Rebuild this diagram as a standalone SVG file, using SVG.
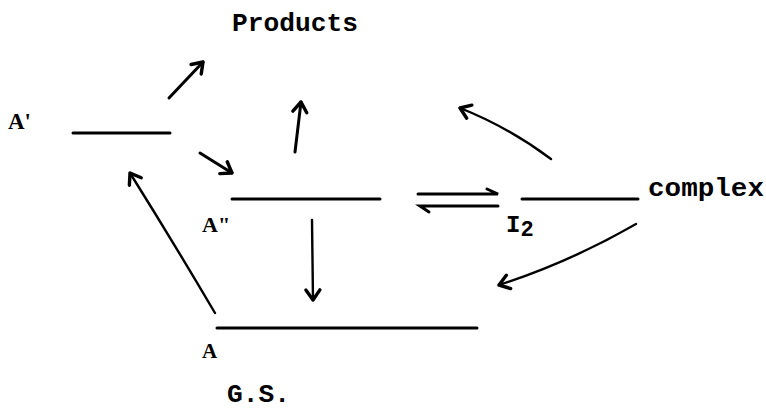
<svg xmlns="http://www.w3.org/2000/svg" width="766" height="419" viewBox="0 0 766 419">
<style>
.lvl{stroke:#000;stroke-width:3;stroke-linecap:round;fill:none}
.arr{stroke:#000;stroke-width:3;stroke-linecap:round;fill:none}
.thin{stroke:#000;stroke-width:2.4;stroke-linecap:round;fill:none}
.tw{font-family:"Liberation Mono","DejaVu Sans Mono",monospace;font-weight:bold;fill:#000}
.lab{font-family:"Liberation Serif","DejaVu Serif",serif;font-weight:bold;fill:#000}
</style>
<defs>
<marker id="ah" markerUnits="userSpaceOnUse" markerWidth="30" markerHeight="30" refX="15" refY="15" orient="auto" viewBox="0 0 30 30">
<path d="M5,8 L15,15 L5,22" fill="none" stroke="#000" stroke-width="3.4" stroke-linecap="round" stroke-linejoin="round"/>
</marker>
</defs>
<rect width="766" height="419" fill="#fff"/>
<g id="products"><text class="tw" x="232" y="31" font-size="25" textLength="126" lengthAdjust="spacingAndGlyphs">Products</text></g>
<g id="Aprime"><line class="lvl" x1="73" y1="133" x2="170" y2="133"/><text class="lab" x="8" y="129" font-size="23">A'</text></g>
<g id="Adouble"><line class="lvl" x1="232" y1="199" x2="380" y2="199"/><text class="lab" x="202" y="232" font-size="22">A"</text></g>
<g id="I2"><line class="lvl" x1="522" y1="199" x2="638" y2="199"/><text class="tw" x="506" y="232" font-size="24" font-weight="normal">I<tspan font-size="22" dy="4">2</tspan></text></g>
<g id="complex"><text class="tw" x="648" y="196" font-size="25" textLength="116" lengthAdjust="spacingAndGlyphs">complex</text></g>
<g id="A"><line class="lvl" x1="217" y1="328" x2="477" y2="328"/><text class="lab" x="202" y="358" font-size="21">A</text></g>
<g id="GS"><text class="tw" x="227" y="402" font-size="25" textLength="63" lengthAdjust="spacingAndGlyphs">G.S.</text></g>
<g id="connectors">
<path class="arr" d="M169,98 L203,62" marker-end="url(#ah)"/>
<path class="arr" d="M200,153 L232,173" marker-end="url(#ah)"/>
<path class="arr" d="M295,152 L301,102" marker-end="url(#ah)"/>
<path class="thin" d="M215,313 Q175,245 130,173" marker-end="url(#ah)"/>
<path class="thin" d="M312,220 L313,300" marker-end="url(#ah)"/>
<path class="thin" d="M551,159 Q508,127 460,108" marker-end="url(#ah)"/>
<path class="thin" d="M636,224 Q570,262 499,285" marker-end="url(#ah)"/>
<path class="arr" d="M418,194 L498,194 L487,189"/>
<path class="arr" d="M498,206 L420,206 L429,212"/>
</g>
</svg>
